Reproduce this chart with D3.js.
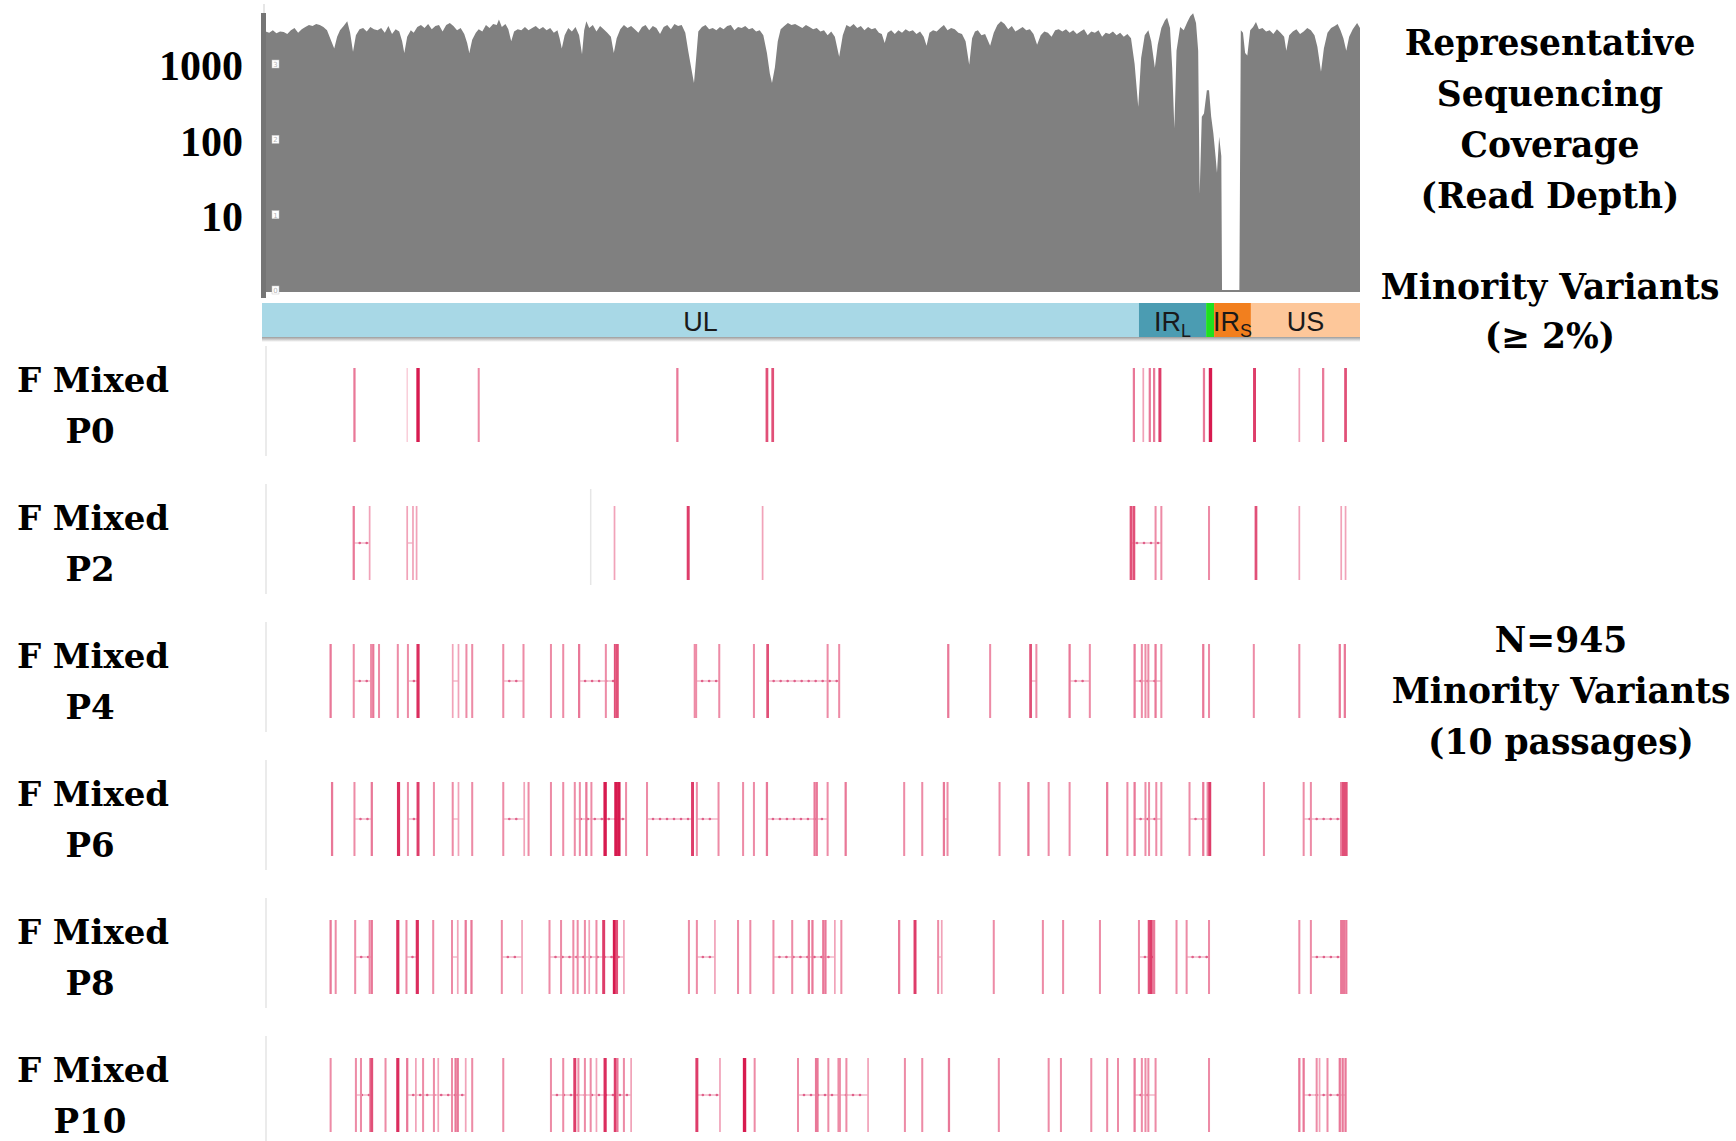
<!DOCTYPE html>
<html>
<head>
<meta charset="utf-8">
<script src="https://cdn.jsdelivr.net/npm/d3@7"></script>
<style>
  body { margin: 0; background: #fff; }
</style>
</head>
<body>
<svg id="chart" width="1736" height="1141"></svg>
<script>
// genome length in kb
const genomeLength = 152

const regionNames = ['UL', 'IRL', 'a', 'IRS', 'US']
const regionBounds = [[0, 121.4], [121.4, 130.7], [130.7, 131.8], [131.8, 136.9], [136.9, 152]]

const depthTicks = [1, 10, 100, 1000]

// [position kb, read depth]
const coverage = [
  [0,2500],[0.5,2700],[1,2600],[1.5,2800],[2,2550],[2.5,2700],[3,2650],[3.5,2500],[4,2800],[4.5,3000],
  [5,2600],[5.5,2900],[6,3100],[6.5,3300],[7,3200],[7.5,3400],[8,3300],[8.5,3100],[9,2800],[9.6,2000],
  [10,1600],[10.4,2300],[10.8,2800],[11.3,3200],[11.8,3700],[12.2,2600],[12.6,1450],[13,2400],[13.5,2900],[14,3000],
  [14.5,2700],[15,3100],[15.5,2900],[16,2800],[16.5,3000],[17,2600],[17.5,3200],[18,2500],[18.5,2900],[19,2700],
  [19.4,2000],[19.7,1400],[20.1,2300],[20.6,2800],[21,2600],[21.5,3100],[22,3300],[22.5,3000],[23,3400],[23.5,2900],
  [24,3200],[24.5,3300],[25,2700],[25.5,3300],[26,3500],[26.5,3200],[27,2800],[27.5,3000],[28,2500],[28.4,1900],
  [28.7,1400],[29.1,2100],[29.6,2600],[30,2900],[30.5,2700],[31,3300],[31.5,3000],[32,3400],[32.5,3300],[32.8,3900],
  [33.2,3100],[33.7,3400],[34.1,2900],[34.5,2000],[34.9,2700],[35.4,2900],[35.9,2800],[36.4,3100],[36.9,2800],[37.4,3000],
  [37.9,3200],[38.4,2900],[38.9,3100],[39.4,2800],[39.9,3000],[40.4,2600],[40.9,2800],[41.2,2200],[41.5,1600],[41.9,2400],
  [42.4,3000],[42.9,2700],[43.4,3100],[43.9,2400],[44.3,1350],[44.6,2800],[44.9,3700],[45.3,3000],[45.8,3300],[46.3,2700],
  [46.8,3200],[47.3,2900],[47.8,2600],[48.3,2300],[48.7,1400],[49.1,2200],[49.6,2900],[50.1,3300],[50.6,3000],[51.1,3200],
  [51.6,2900],[52.1,2600],[52.6,3100],[53.1,3300],[53.6,2800],[54.1,3200],[54.6,3000],[55.1,2500],[55.6,3100],[56.1,3300],
  [56.6,2900],[57.1,3400],[57.6,3200],[58.1,3300],[58.6,2600],[59,1500],[59.5,800],[59.8,560],[60.1,1200],[60.4,2700],
  [60.9,3100],[61.4,3300],[61.9,2900],[62.4,3000],[62.9,2800],[63.4,3100],[63.9,2900],[64.4,3200],[64.9,3300],[65.4,2800],
  [65.9,3100],[66.4,3000],[66.9,3200],[67.4,2900],[67.9,3000],[68.4,2700],[68.9,2800],[69.4,2400],[69.9,1400],[70.3,750],
  [70.6,560],[71,900],[71.4,2000],[71.8,2900],[72.3,3200],[72.8,3500],[73.3,3300],[73.8,3400],[74.3,3200],[74.8,3000],
  [75.3,3300],[75.8,3100],[76.3,2900],[76.8,3000],[77.3,2700],[77.8,2800],[78.3,2400],[78.8,2700],[79.3,2300],[79.9,1250],
  [80.4,2400],[80.9,3300],[81.4,3100],[81.9,3400],[82.4,3000],[82.9,3200],[83.4,2800],[83.9,3100],[84.4,2900],[84.9,3000],
  [85.4,2600],[85.8,2500],[86.2,1900],[86.6,2600],[87.1,2800],[87.6,2500],[88.1,2800],[88.6,2600],[89.1,2900],[89.6,2700],
  [90.1,2800],[90.6,2500],[91.1,2700],[91.6,2300],[92,1750],[92.4,2600],[92.9,2800],[93.4,2700],[93.9,3000],[94.4,3300],
  [94.9,2800],[95.4,3000],[95.9,2900],[96.4,2600],[96.9,2500],[97.4,2000],[97.9,980],[98.3,2200],[98.7,2700],[99.1,2800],
  [99.6,2400],[100.1,2500],[100.8,1750],[101.3,2600],[101.8,3300],[102.3,3700],[102.8,3400],[103.3,2900],[103.8,3200],[104.3,2700],
  [104.8,2900],[105.3,3100],[105.8,2800],[106.3,2900],[106.8,2500],[107.3,1800],[107.8,2400],[108.3,2700],[108.8,2600],[109.3,2300],
  [109.8,2800],[110.3,2900],[110.8,2700],[111.3,2900],[111.8,2600],[112.3,2800],[112.8,2500],[113.3,2700],[113.8,2900],[114.3,2400],
  [114.8,2700],[115.3,2600],[115.8,2800],[116.3,2300],[116.8,2600],[117.3,2500],[117.8,2700],[118.3,2400],[118.8,2600],[119.3,2300],
  [119.8,2500],[120.3,2200],[120.8,1000],[121.3,270],[121.7,1200],[122.2,2400],[122.7,2800],[123.1,2000],[123.6,890],[124,1800],
  [124.5,3000],[125,3800],[125.3,4100],[125.7,3000],[126,900],[126.3,140],[126.6,1500],[127.1,3100],[127.6,2800],[128.1,3600],
  [128.5,4300],[128.9,4700],[129.3,3500],[129.6,1500],[129.8,19],[130.1,200],[130.4,220],[130.8,450],[131.1,450],[131.4,200],
  [131.7,120],[132,60],[132.2,36],[132.5,108],[132.8,60],[132.9,0],[135.3,0],[135.5,2800],[135.8,2600],[136.1,1400],
  [136.4,1300],[136.8,2800],[137.2,3100],[137.6,3600],[138,2900],[138.5,3000],[139,2700],[139.5,2800],[140,2500],[140.5,2900],
  [141,2600],[141.5,2300],[141.8,1500],[142.2,2400],[142.7,2700],[143.2,2900],[143.7,2500],[144.2,2700],[144.7,3000],[145.2,2800],
  [145.7,2400],[146.1,1700],[146.6,790],[147,1600],[147.5,2600],[148,3000],[148.5,3200],[148.9,3400],[149.3,2800],[149.7,2200],
  [150.1,1500],[150.5,2300],[151,2900],[151.6,3500],[152,3000]
]

const rowNames = ['P0', 'P2', 'P4', 'P6', 'P8', 'P10']

// minority variants: [position kb, frequency %]
const variantsP0 = [[12.8,5],[20.1,2],[21.6,15],[30.0,4],[57.5,5],[69.9,8],[70.7,8],[120.7,5],[122.0,3],[122.9,5],
  [123.5,5],[124.3,10],[130.4,5],[131.3,15],[137.4,10],[143.6,3],[146.9,5],[150.0,8]]
const variantsP2 = [[12.7,5],[14.9,3],[20.1,3],[20.9,3],[21.4,3],[48.8,3],[59.0,10],[69.3,3],[120.3,8],[120.7,8],
  [123.7,4],[124.5,4],[131.1,4],[137.6,8],[143.6,3],[149.4,3],[150.0,3]]
const variantsP4 = [[9.5,5],[12.7,4],[15.1,4],[15.4,5],[16.2,4],[18.8,4],[20.2,4],[21.6,12],[26.4,3],[27.2,3],
  [28.3,4],[29.1,4],[33.4,4],[36.2,4],[40.0,4],[41.7,4],[43.9,5],[47.6,4],[48.9,8],[49.1,5],[49.2,8],[59.9,4],
  [60.1,4],[63.3,4],[68.1,4],[70.0,8],[78.3,4],[79.9,4],[95.0,5],[100.8,4],[106.4,8],[107.2,4],[111.8,5],[114.6,4],
  [120.8,5],[121.8,4],[122.3,4],[122.7,4],[123.7,5],[124.5,4],[130.3,5],[131.1,4],[137.3,4],[143.6,4],[149.2,5],[149.9,5]]
const variantsP6 = [[9.7,5],[12.8,4],[15.2,5],[18.9,12],[20.2,4],[21.6,10],[23.8,4],[26.4,4],[27.2,3],[29.1,4],
  [33.4,4],[36.3,3],[36.9,4],[40.0,4],[41.7,4],[43.3,4],[44.0,4],[44.9,5],[45.6,4],[47.5,15],[49.0,15],[49.4,15],
  [50.4,4],[53.3,4],[59.6,10],[60.2,4],[63.2,4],[66.6,4],[68.1,4],[69.9,5],[76.5,5],[76.8,5],[78.3,4],[80.8,5],
  [88.9,4],[91.4,4],[94.4,5],[94.9,4],[102.1,4],[106.1,5],[108.9,4],[111.8,4],[117.0,5],[119.8,4],[120.8,5],[122.3,4],
  [122.8,4],[123.8,4],[124.5,4],[128.4,4],[130.3,5],[130.9,4],[131.2,10],[138.7,4],[144.2,4],[145.2,4],[149.4,5],
  [149.7,8],[149.9,8],[150.1,8]]
const variantsP8 = [[9.5,5],[10.2,4],[12.9,4],[14.9,4],[15.2,5],[18.8,12],[20.0,4],[21.5,12],[23.7,4],[26.3,4],
  [27.1,3],[28.2,5],[29.0,5],[33.2,4],[36.0,3],[39.8,4],[41.4,4],[43.1,4],[43.7,4],[44.7,4],[45.3,3],[46.3,4],
  [47.3,10],[48.8,15],[49.1,8],[50.1,3],[59.1,4],[60.2,4],[62.7,3],[65.9,4],[67.6,4],[70.8,4],[73.4,4],[75.7,5],
  [76.2,5],[77.7,5],[78.0,5],[79.3,3],[80.2,4],[88.2,5],[90.4,10],[93.6,4],[94.1,3],[101.3,4],[108.1,4],[110.9,4],
  [116.0,4],[121.4,4],[122.8,8],[123.1,10],[123.5,5],[126.6,4],[128.0,4],[131.1,4],[143.6,4],[145.2,4],[149.4,5],
  [149.6,5],[149.8,5],[150.1,5]]
const variantsP10 = [[9.5,4],[13.0,4],[13.7,4],[15.0,5],[15.2,8],[17.1,4],[18.8,12],[20.1,5],[21.3,3],[22.3,4],
  [23.8,4],[24.4,3],[26.3,4],[26.8,5],[27.1,5],[28.2,3],[29.1,4],[33.4,4],[40.0,4],[41.7,4],[43.3,10],[43.8,4],
  [44.7,4],[45.5,4],[46.3,3],[47.5,12],[48.9,10],[49.2,5],[50.1,4],[51.1,3],[60.2,10],[63.4,3],[66.8,15],[68.2,4],
  [74.2,4],[76.7,5],[76.9,5],[78.4,4],[79.8,4],[80.0,4],[80.9,4],[83.9,3],[89.0,4],[91.4,4],[95.1,5],[102.0,4],
  [108.9,4],[110.6,4],[114.8,4],[117.0,4],[118.5,4],[120.8,5],[121.8,4],[122.3,4],[122.7,4],[123.7,4],[131.1,4],
  [143.6,5],[144.2,5],[146.0,4],[146.4,3],[147.5,4],[149.2,5],[149.6,5],[150.0,5]]

// linked variant spans: [start kb, end kb]
const linkedP0 = []
const linkedP2 = [[12.7,14.9],[20.1,20.9],[120.3,124.5]]
const linkedP4 = [[12.7,15.1],[20.2,21.6],[26.4,27.2],[33.4,36.2],[43.9,48.9],[60.1,63.3],[70.0,79.9],[106.4,107.2],
  [111.8,114.6],[120.8,124.5]]
const linkedP6 = [[12.8,15.2],[20.2,21.6],[26.4,27.2],[33.4,36.3],[43.3,50.4],[53.3,59.6],[60.2,63.2],[69.9,78.3],
  [94.4,94.9],[120.8,124.5],[128.4,131.2],[144.2,150.1]]
const linkedP8 = [[12.9,15.2],[20.0,21.5],[26.3,27.1],[33.2,36.0],[39.8,50.1],[60.2,62.7],[70.8,79.3],[93.6,94.1],
  [121.4,123.5],[128.0,131.1],[145.2,149.8]]
const linkedP10 = [[13.0,15.2],[20.1,28.2],[40.0,51.1],[60.2,63.4],[74.2,83.9],[120.8,123.7],[144.2,150.0]]

const p2Divider = 45.5

const coverageTitle = ['Representative', 'Sequencing', 'Coverage', '(Read Depth)']
const variantTitle = ['Minority Variants', '(\u2265 2%)']
const countTitle = ['N=945', 'Minority Variants', '(10 passages)']

const variants = { P0: variantsP0, P2: variantsP2, P4: variantsP4, P6: variantsP6, P8: variantsP8, P10: variantsP10 }
const linked = { P0: linkedP0, P2: linkedP2, P4: linkedP4, P6: linkedP6, P8: linkedP8, P10: linkedP10 }

const regionColor = { UL: '#a8d8e6', IRL: '#4b9cb2', a: '#1fe01f', IRS: '#f27f1e', US: '#fdc79a' }
const serif = 'DejaVu Serif'

const svg = d3.select('#chart')

svg.append('rect').attr('width', 1736).attr('height', 1141).attr('fill', '#fff')

const defs = svg.append('defs')
const grad = defs.append('linearGradient').attr('id', 'shadow').attr('x1', 0).attr('x2', 0).attr('y1', 0).attr('y2', 1)
grad.append('stop').attr('offset', 0).attr('stop-color', '#9c9c9c')
grad.append('stop').attr('offset', 1).attr('stop-color', '#fff')

const x = d3.scaleLinear().domain([0, genomeLength]).range([262, 1360])
const y = d3.scaleLog().domain([1, 1000]).range([290, 64])

// coverage
const area = d3.area()
  .x(d => x(d[0]))
  .y0(292)
  .y1(d => y(Math.max(d[1], 1)))

svg.append('path')
  .datum(coverage)
  .attr('d', area)
  .attr('fill', '#808080')

svg.append('line')
  .attr('x1', 264).attr('x2', 264)
  .attr('y1', 4).attr('y2', 13)
  .attr('stroke', '#e6e6e6')
  .attr('stroke-width', 2)

svg.append('rect')
  .attr('x', 261).attr('y', 13)
  .attr('width', 5).attr('height', 285)
  .attr('fill', '#757575')

const yAxis = d3.axisLeft(y)
  .tickValues(depthTicks.slice(1))
  .tickFormat(d3.format('d'))
  .tickSize(0)
  .tickPadding(19)

svg.append('g')
  .attr('transform', 'translate(262,0)')
  .call(yAxis)
  .call(g => g.select('.domain').remove())
  .selectAll('text')
  .attr('font-family', 'Liberation Serif')
  .attr('font-weight', 'bold')
  .attr('font-size', 42)
  .attr('fill', '#000')
  .attr('dy', '0.38em')

const marks = svg.append('g').selectAll('g')
  .data(depthTicks)
  .join('g')
  .attr('transform', d => `translate(272,${y(d) - 4})`)

marks.append('rect')
  .attr('width', 7).attr('height', 8)
  .attr('fill', '#fff')
  .attr('stroke', '#c8c8c8')
  .attr('stroke-width', 0.5)

marks.append('text')
  .attr('x', 3.5).attr('y', 7)
  .attr('text-anchor', 'middle')
  .attr('font-family', 'DejaVu Sans')
  .attr('font-size', 7)
  .attr('fill', '#b5b5b5')
  .text(d => Math.log10(d))

// genome map
const barTop = 303
const barH = 34

svg.append('rect')
  .attr('x', x(0)).attr('y', barTop + barH)
  .attr('width', x(genomeLength) - x(0)).attr('height', 5)
  .attr('fill', 'url(#shadow)')

svg.append('g').selectAll('rect')
  .data(regionNames)
  .join('rect')
  .attr('x', (d, i) => x(regionBounds[i][0]))
  .attr('y', barTop)
  .attr('width', (d, i) => x(regionBounds[i][1]) - x(regionBounds[i][0]))
  .attr('height', barH)
  .attr('fill', d => regionColor[d])

const labels = svg.append('g').selectAll('text')
  .data(regionNames.filter(d => d !== 'a'))
  .join('text')
  .attr('x', d => { const b = regionBounds[regionNames.indexOf(d)]; return x((b[0] + b[1]) / 2) })
  .attr('y', barTop + 28)
  .attr('text-anchor', 'middle')
  .attr('font-family', 'Liberation Sans')
  .attr('font-size', 27)
  .attr('fill', '#1a1a1a')

labels.append('tspan').text(d => d.startsWith('IR') ? 'IR' : d)
labels.filter(d => d.startsWith('IR'))
  .append('tspan')
  .attr('font-size', 18)
  .attr('dy', 6)
  .text(d => d.slice(2))

// variant tracks
const rowY = d3.scalePoint().domain(rowNames).range([368, 1058])
const lineH = 74

const freqColor = d3.scaleLog().domain([2, 15]).range(['#f8c6d4', '#d71a4f']).clamp(true)
const freqWidth = d3.scaleLog().domain([2, 15]).range([1.3, 3.4]).clamp(true)

const rows = svg.append('g').selectAll('g')
  .data(rowNames)
  .join('g')
  .attr('transform', d => `translate(0,${rowY(d)})`)

rows.append('line')
  .attr('x1', 266).attr('x2', 266)
  .attr('y1', -22).attr('y2', 88)
  .attr('stroke', '#e4e4e4')
  .attr('stroke-width', 1.5)

rows.filter(d => d === 'P2')
  .append('line')
  .attr('x1', x(p2Divider)).attr('x2', x(p2Divider))
  .attr('y1', -17).attr('y2', 79)
  .attr('stroke', '#e6e6e6')
  .attr('stroke-width', 1.5)

rows.each(function (name) {
  const g = d3.select(this)

  g.selectAll('line.link')
    .data(linked[name])
    .join('line')
    .attr('class', 'link')
    .attr('x1', d => x(d[0])).attr('x2', d => x(d[1]))
    .attr('y1', 37).attr('y2', 37)
    .attr('stroke', '#ec93ad')
    .attr('stroke-width', 1)

  linked[name].forEach(d => {
    g.selectAll(null)
      .data(d3.range(x(d[0]) + 6, x(d[1]) - 2, 7))
      .join('circle')
      .attr('cx', c => c).attr('cy', 37)
      .attr('r', 1.3)
      .attr('fill', '#e0608a')
  })

  g.selectAll('line.snv')
    .data(variants[name])
    .join('line')
    .attr('class', 'snv')
    .attr('x1', d => x(d[0])).attr('x2', d => x(d[0]))
    .attr('y1', 0).attr('y2', lineH)
    .attr('stroke', d => freqColor(d[1]))
    .attr('stroke-width', d => freqWidth(d[1]))
})

rows.append('text')
  .attr('x', 93).attr('y', 24)
  .attr('text-anchor', 'middle')
  .attr('font-family', serif)
  .attr('font-weight', 'bold')
  .attr('font-size', 34)
  .text('F Mixed')

rows.append('text')
  .attr('x', 90).attr('y', 75)
  .attr('text-anchor', 'middle')
  .attr('font-family', serif)
  .attr('font-weight', 'bold')
  .attr('font-size', 34)
  .text(d => d)

// side annotations
const block = (lines, cx, cy, step) => {
  svg.append('g').selectAll('text')
    .data(lines)
    .join('text')
    .attr('x', cx)
    .attr('y', (d, i) => cy + i * step + 13)
    .attr('text-anchor', 'middle')
    .attr('font-family', serif)
    .attr('font-weight', 'bold')
    .attr('font-size', 34.5)
    .attr('fill', '#000')
    .text(d => d)
}

block(coverageTitle, 1550, 42, 51)
block(variantTitle, 1550, 286, 49)
block(countTitle, 1561, 639, 51)
</script>
</body>
</html>
